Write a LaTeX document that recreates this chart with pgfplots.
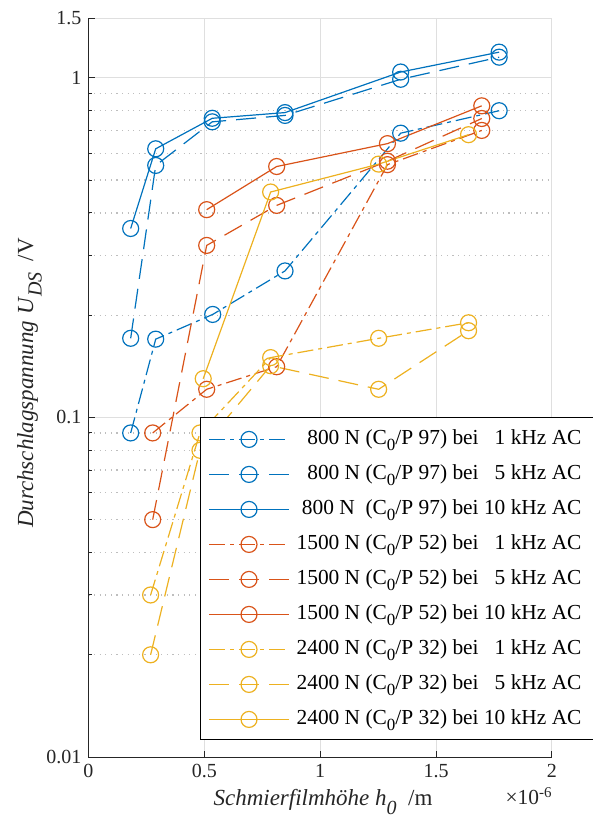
\documentclass[border=0pt]{standalone}
\usepackage{fontspec}
\setmainfont{Liberation Serif}
\usepackage{pgfplots}
\pgfplotsset{compat=1.18}
\definecolor{mblue}{RGB}{0,114,189}
\definecolor{morange}{RGB}{217,83,25}
\definecolor{myellow}{RGB}{237,177,32}
\definecolor{axgray}{RGB}{38,38,38}
\definecolor{gridgray}{RGB}{223,223,223}
\definecolor{mgridgray}{RGB}{190,190,190}
\tikzset{
  ddot/.style={dash pattern=on 8pt off 2.5pt on 2pt off 2.5pt},
  ddash/.style={dash pattern=on 10pt off 5pt},
}
\newcommand{\Cz}{C\raisebox{-3pt}{\fontsize{8.5}{9}\selectfont 0}}
\newcommand{\lfont}{\fontsize{10.7}{12}\selectfont}
\newcommand{\tfont}{\fontsize{10}{12}\selectfont}
\newcommand{\afont}{\fontsize{11.5}{13}\selectfont}
\begin{document}
\begin{tikzpicture}
\path[use as bounding box] (0,0) rectangle (296.5pt,408pt);
\begin{axis}[
  name=ax,
  at={(44.25pt,29.5pt)}, anchor=south west,
  width=231.75pt, height=369.5pt, scale only axis,
  xmin=0, xmax=2, ymin=0.01, ymax=1.5, ymode=log,
  axis x line*=bottom, axis y line*=left,
  x axis line style={-, draw=axgray, line width=0.5pt},
  y axis line style={-, draw=axgray, line width=0.5pt},
  xtick={0,0.5,1,1.5,2}, xticklabels={0,0.5,1,1.5,2},
  ytick={0.01,0.1,1,1.5}, yticklabels={0.01,0.1,1,1.5},
  minor ytick={0.02,0.03,0.04,0.05,0.06,0.07,0.08,0.09,0.2,0.3,0.4,0.5,0.6,0.7,0.8,0.9},
  minor x tick num=0,
  tick align=inside, major tick length=3pt, minor tick length=1.8pt,
  tick style={draw=axgray, line width=0.5pt},
  xmajorgrids=true, ymajorgrids=true, yminorgrids=true,
  major grid style={draw=gridgray, line width=0.5pt, solid},
  minor grid style={draw=mgridgray, line width=0.6pt, dash pattern=on 0.6pt off 2.2pt},
  ticklabel style={font=\tfont, text=axgray},
  /pgf/number format/assume math mode=true,
  legend style={at={(0.2421,0.4587)}, anchor=north west, draw=none,
    fill=white, inner xsep=3.65pt, inner ysep=4.5pt, font=\lfont,
    nodes={inner xsep=0pt, inner ysep=0.75pt, text height=7.6pt, text depth=2.9pt},
    row sep=5.5pt, column sep=3.5pt},
  legend cell align=right,
  legend image code/.code={\draw[mark repeat=2, mark phase=2, #1] plot coordinates {(0pt,0pt) (20pt,0pt) (40pt,0pt)};},
  every axis plot/.append style={line width=0.6pt, mark=o, mark size=4pt, mark options={solid}},
]
% 800 N
\addplot[mblue, ddot] coordinates {(0.182,0.090) (0.290,0.170) (0.536,0.201) (0.848,0.270) (1.347,0.687) (1.772,0.800)};
\addlegendentry{800 N (\Cz/P 97) bei \phantom{1}1 kHz AC}
\addplot[mblue, ddash] coordinates {(0.182,0.171) (0.290,0.552) (0.534,0.742) (0.848,0.775) (1.347,0.990) (1.772,1.150)};
\addlegendentry{800 N (\Cz/P 97) bei \phantom{1}5 kHz AC}
\addplot[mblue, solid] coordinates {(0.182,0.360) (0.290,0.618) (0.534,0.760) (0.848,0.790) (1.347,1.040) (1.772,1.190)};
\addlegendentry{800 N\ \ (\Cz/P 97) bei 10 kHz AC}
% 1500 N
\addplot[morange, ddot] coordinates {(0.277,0.090) (0.510,0.121) (0.812,0.141) (1.290,0.555) (1.697,0.700)};
\addlegendentry{1500 N (\Cz/P 52) bei \phantom{1}1 kHz AC}
\addplot[morange, ddash] coordinates {(0.277,0.050) (0.510,0.321) (0.812,0.421) (1.290,0.568) (1.697,0.759)};
\addlegendentry{1500 N (\Cz/P 52) bei \phantom{1}5 kHz AC}
\addplot[morange, solid] coordinates {(0.510,0.409) (0.812,0.548) (1.290,0.640) (1.697,0.827)};
\addlegendentry{1500 N (\Cz/P 52) bei 10 kHz AC}
% 2400 N
\addplot[myellow, ddot] coordinates {(0.268,0.030) (0.481,0.090) (0.786,0.150) (1.252,0.171) (1.640,0.190)};
\addlegendentry{2400 N (\Cz/P 32) bei \phantom{1}1 kHz AC}
\addplot[myellow, ddash] coordinates {(0.268,0.020) (0.481,0.080) (0.786,0.142) (1.252,0.121) (1.640,0.180)};
\addlegendentry{2400 N (\Cz/P 32) bei \phantom{1}5 kHz AC}
\addplot[myellow, solid] coordinates {(0.495,0.130) (0.786,0.461) (1.252,0.557) (1.640,0.680)};
\addlegendentry{2400 N (\Cz/P 32) bei 10 kHz AC}
\end{axis}
% legend frame (open to the right, as in the reference)
\draw[black, line width=0.5pt] (296.5pt,199pt) -- (100.35pt,199pt) -- (100.35pt,38pt) -- (296.5pt,38pt);
\node[anchor=base, font=\afont, text=axgray, inner sep=0pt] at (161.5pt,5.2pt)
  {\textit{Schmierfilmhöhe h}\raisebox{-4.3pt}{\fontsize{10}{10}\selectfont\itshape 0}\ \ /m};
\node[anchor=base east, font=\lfont, text=axgray, inner sep=0pt] at (276.5pt,5.5pt)
  {×10\textsuperscript{-6}};
\node[rotate=90, anchor=base, font=\afont, text=axgray, inner sep=0pt] at (16.5pt,216.5pt)
  {\textit{Durchschlagspannung U}\raisebox{-4.3pt}{\fontsize{10}{10}\selectfont\itshape DS}\ \ /V};
\end{tikzpicture}
\end{document}
